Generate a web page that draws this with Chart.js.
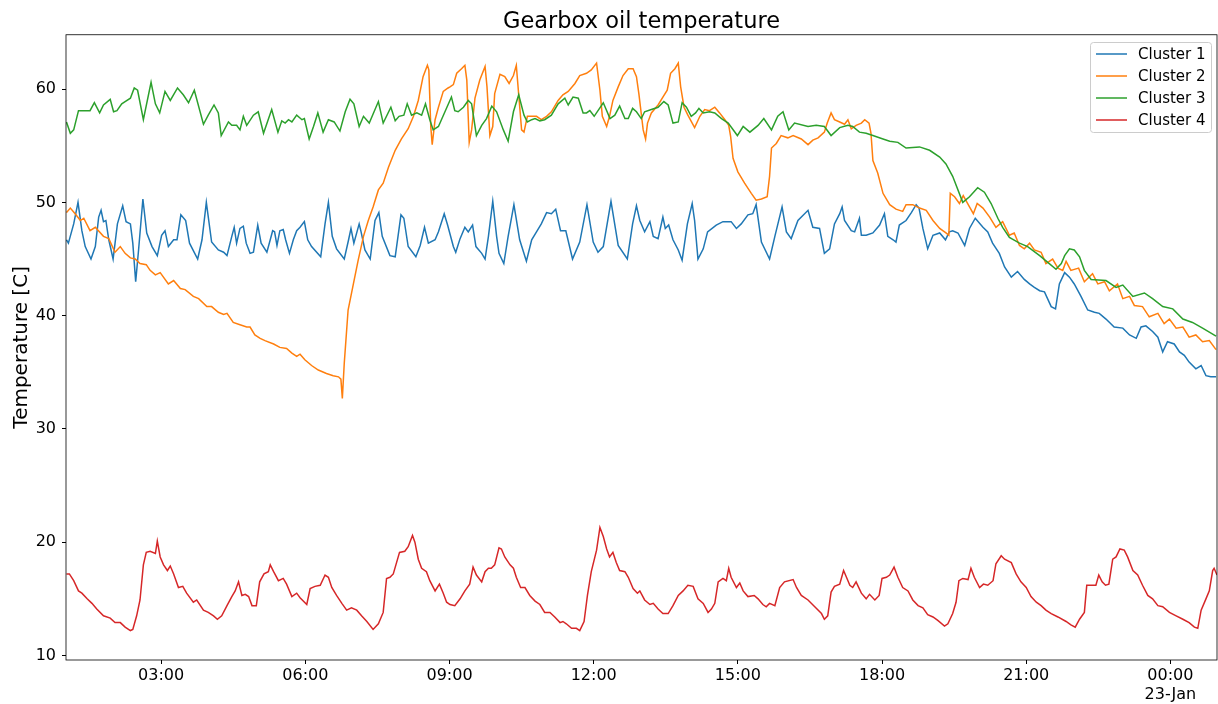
<!DOCTYPE html>
<html>
<head>
<meta charset="utf-8">
<script src="https://cdn.jsdelivr.net/npm/chart.js@4/dist/chart.umd.min.js"></script>
<style>
  html, body { margin: 0; padding: 0; background: #fff; }
  #wrap { width: 1218px; height: 704px; }
</style>
</head>
<body>
<div id="wrap"><canvas id="chart" width="1218" height="704"></canvas></div>
<script>
// hours since 00:00 on 22-Jan, temperature in C
const c1Points = [
  [1.03,46.7],[1.07,46.4],[1.18,48.1],[1.27,50.0],[1.35,47.5],[1.42,46.1],[1.54,45.0],[1.63,46.1],[1.70,48.7],[1.75,49.3],
  [1.80,48.3],[1.85,48.4],[1.91,46.7],[2.00,45.0],[2.09,48.1],[2.20,49.7],[2.27,48.3],[2.36,48.1],[2.41,46.4],[2.47,43.0],
  [2.53,45.8],[2.62,50.3],[2.70,47.3],[2.81,46.1],[2.92,45.3],[3.01,47.1],[3.08,47.5],[3.15,46.1],[3.26,46.7],[3.33,46.7],
  [3.41,48.9],[3.51,48.4],[3.59,46.4],[3.76,45.0],[3.85,46.7],[3.94,50.0],[4.05,46.5],[4.19,45.8],[4.30,45.6],[4.37,45.3],
  [4.47,47.0],[4.52,47.8],[4.57,46.4],[4.64,47.7],[4.71,47.9],[4.77,46.4],[4.85,45.5],[4.92,45.6],[5.01,48.0],[5.08,46.4],
  [5.20,45.6],[5.27,46.7],[5.32,47.5],[5.36,47.4],[5.41,46.2],[5.47,47.5],[5.54,47.6],[5.59,46.7],[5.67,45.5],[5.75,46.7],
  [5.82,47.5],[5.89,47.8],[5.98,48.3],[6.05,46.7],[6.13,46.1],[6.32,45.2],[6.41,48.1],[6.48,50.0],[6.56,47.0],[6.65,45.9],
  [6.81,45.0],[6.90,46.7],[6.95,47.7],[7.01,46.4],[7.12,48.1],[7.16,47.4],[7.24,45.8],[7.35,45.0],[7.45,48.4],[7.53,49.1],
  [7.60,47.0],[7.76,45.3],[7.87,45.2],[7.99,48.9],[8.05,48.6],[8.14,46.1],[8.30,45.2],[8.39,46.2],[8.48,47.8],[8.56,46.4],
  [8.70,46.7],[8.77,47.4],[8.89,49.0],[8.96,48.0],[9.08,46.1],[9.13,45.6],[9.22,46.8],[9.32,47.8],[9.39,47.4],[9.48,48.0],
  [9.55,46.1],[9.67,45.5],[9.74,45.0],[9.81,47.0],[9.90,50.1],[9.98,47.0],[10.03,45.5],[10.13,44.6],[10.22,47.0],[10.34,49.8],
  [10.46,46.7],[10.60,44.8],[10.71,46.7],[10.81,47.4],[10.91,48.1],[11.02,49.1],[11.12,49.0],[11.21,49.4],[11.31,47.5],[11.42,47.5],
  [11.56,45.0],[11.71,46.5],[11.86,49.8],[11.99,46.5],[12.09,45.6],[12.20,46.1],[12.36,50.1],[12.51,46.2],[12.70,45.0],[12.81,48.1],
  [12.89,49.7],[12.96,48.4],[13.06,47.4],[13.17,48.3],[13.24,47.0],[13.34,46.8],[13.44,48.7],[13.49,47.7],[13.56,48.0],[13.65,46.7],
  [13.76,45.8],[13.84,44.9],[13.95,48.1],[14.05,49.9],[14.10,48.4],[14.17,45.0],[14.28,45.9],[14.37,47.4],[14.55,48.0],[14.69,48.3],
  [14.86,48.3],[14.97,47.7],[15.07,48.1],[15.21,48.9],[15.31,49.0],[15.38,49.8],[15.49,46.5],[15.66,45.0],[15.77,47.0],[15.92,49.6],
  [16.01,47.4],[16.11,46.8],[16.25,48.4],[16.46,49.3],[16.56,47.8],[16.70,47.7],[16.80,45.5],[16.91,45.9],[17.01,48.1],[17.12,49.0],
  [17.17,49.6],[17.22,48.4],[17.36,47.5],[17.43,47.4],[17.53,48.6],[17.57,47.1],[17.67,47.1],[17.81,47.3],[17.95,48.0],[18.05,49.0],
  [18.12,47.0],[18.23,46.7],[18.29,46.5],[18.36,48.0],[18.50,48.4],[18.61,49.1],[18.71,49.8],[18.77,49.5],[18.85,47.7],[18.95,45.9],
  [19.06,47.1],[19.20,47.3],[19.32,46.7],[19.40,47.4],[19.47,47.5],[19.58,47.3],[19.72,46.2],[19.82,47.7],[19.94,48.6],[20.10,47.8],
  [20.20,47.4],[20.30,46.4],[20.44,45.5],[20.55,44.3],[20.69,43.4],[20.82,43.9],[20.96,43.2],[21.07,42.8],[21.17,42.5],[21.28,42.2],
  [21.38,42.1],[21.52,40.8],[21.61,40.6],[21.69,42.8],[21.80,43.8],[21.90,43.4],[22.00,42.8],[22.14,41.7],[22.28,40.5],[22.42,40.3],
  [22.52,40.2],[22.66,39.7],[22.83,39.0],[23.01,38.9],[23.15,38.3],[23.29,38.0],[23.39,39.0],[23.49,39.1],[23.63,38.6],[23.74,38.1],
  [23.84,36.8],[23.94,37.7],[24.08,37.5],[24.19,36.8],[24.29,36.5],[24.39,35.9],[24.53,35.3],[24.64,35.6],[24.74,34.7],[24.84,34.6],
  [24.95,34.6]
];

const c2Points = [
  [1.03,49.1],[1.11,49.5],[1.21,49.0],[1.32,48.4],[1.39,48.6],[1.52,47.5],[1.63,47.8],[1.80,47.0],[1.91,46.8],[2.04,45.6],
  [2.15,46.1],[2.25,45.5],[2.36,45.1],[2.46,45.0],[2.56,44.6],[2.69,44.5],[2.77,44.0],[2.88,43.6],[2.98,43.8],[3.15,42.8],
  [3.26,43.1],[3.40,42.4],[3.50,42.3],[3.67,41.7],[3.78,41.5],[3.95,40.8],[4.05,40.8],[4.19,40.3],[4.30,40.1],[4.37,40.2],
  [4.50,39.4],[4.64,39.2],[4.78,39.0],[4.85,39.0],[4.95,38.3],[5.06,38.0],[5.16,37.8],[5.34,37.5],[5.47,37.2],[5.61,37.1],
  [5.72,36.7],[5.82,36.4],[5.89,36.6],[5.99,36.1],[6.13,35.6],[6.27,35.2],[6.44,34.9],[6.58,34.7],[6.69,34.6],[6.74,34.4],
  [6.77,32.7],[6.81,35.8],[6.89,40.5],[7.00,42.8],[7.10,44.9],[7.21,47.0],[7.31,48.4],[7.41,49.6],[7.52,51.1],[7.62,51.7],
  [7.73,53.1],[7.87,54.6],[8.00,55.6],[8.14,56.5],[8.25,57.6],[8.35,59.0],[8.45,61.1],[8.54,62.1],[8.57,61.7],[8.61,56.7],
  [8.64,55.1],[8.70,57.3],[8.77,58.4],[8.87,59.8],[8.97,60.1],[9.01,60.2],[9.08,60.4],[9.15,61.4],[9.25,61.8],[9.32,62.1],
  [9.36,60.8],[9.41,55.3],[9.46,56.4],[9.53,59.2],[9.63,60.8],[9.74,62.0],[9.78,60.2],[9.84,55.9],[9.90,56.7],[9.94,59.6],
  [10.05,61.3],[10.15,61.1],[10.24,60.5],[10.33,61.2],[10.39,62.1],[10.45,59.0],[10.50,56.4],[10.55,56.2],[10.62,57.6],[10.71,57.6],
  [10.81,57.6],[10.91,57.3],[11.02,57.6],[11.12,58.0],[11.26,59.0],[11.36,59.5],[11.47,59.8],[11.61,60.5],[11.71,61.2],[11.85,61.4],
  [11.95,61.7],[12.06,62.3],[12.13,59.9],[12.18,57.6],[12.27,56.7],[12.33,57.6],[12.40,59.0],[12.51,60.2],[12.61,61.2],[12.72,61.8],
  [12.82,61.8],[12.89,61.1],[12.94,59.6],[13.03,56.4],[13.08,55.6],[13.12,57.0],[13.20,57.9],[13.34,58.6],[13.44,59.3],[13.53,59.9],
  [13.60,61.4],[13.69,61.8],[13.76,62.3],[13.81,60.2],[13.88,58.4],[13.96,57.7],[14.10,56.6],[14.21,57.6],[14.31,58.2],[14.41,58.1],
  [14.52,58.4],[14.62,57.9],[14.73,57.3],[14.81,56.8],[14.85,55.8],[14.90,53.9],[15.00,52.7],[15.14,51.7],[15.28,50.8],[15.38,50.2],
  [15.49,50.3],[15.61,50.5],[15.66,52.3],[15.70,54.8],[15.80,55.2],[15.90,55.9],[16.04,55.7],[16.15,55.9],[16.32,55.6],[16.46,55.1],
  [16.56,55.5],[16.67,55.7],[16.80,56.2],[16.86,57.0],[16.94,57.9],[17.01,57.3],[17.12,57.1],[17.22,56.9],[17.29,57.3],[17.36,56.5],
  [17.46,56.8],[17.57,57.0],[17.64,57.3],[17.73,57.0],[17.77,56.1],[17.81,53.7],[17.91,52.6],[18.02,50.8],[18.16,49.8],[18.29,49.4],
  [18.43,49.2],[18.50,49.8],[18.64,49.8],[18.78,49.5],[18.92,49.3],[19.06,48.4],[19.20,47.7],[19.33,47.3],[19.39,47.1],[19.42,50.8],
  [19.51,50.5],[19.61,49.9],[19.69,50.6],[19.82,49.6],[19.90,49.0],[19.98,49.9],[20.10,49.5],[20.24,48.7],[20.37,47.8],[20.51,48.3],
  [20.65,47.1],[20.75,47.3],[20.86,46.2],[20.96,45.9],[21.07,46.4],[21.17,45.8],[21.31,45.6],[21.41,44.6],[21.55,45.0],[21.66,44.2],
  [21.76,44.0],[21.83,44.8],[21.93,44.0],[22.09,44.2],[22.21,43.0],[22.38,43.7],[22.49,42.8],[22.63,43.0],[22.73,42.2],[22.90,42.8],
  [23.01,41.5],[23.15,41.7],[23.25,40.9],[23.42,40.8],[23.56,39.9],[23.74,40.2],[23.87,39.3],[23.98,39.7],[24.12,38.9],[24.26,39.0],
  [24.39,38.1],[24.53,38.3],[24.67,37.7],[24.81,37.8],[24.95,37.0]
];

const c3Points = [
  [1.03,57.1],[1.11,56.1],[1.18,56.4],[1.28,58.1],[1.35,58.1],[1.46,58.1],[1.52,58.1],[1.61,58.8],[1.72,57.9],[1.80,58.6],
  [1.94,59.1],[2.01,58.0],[2.08,58.1],[2.18,58.7],[2.25,58.9],[2.36,59.2],[2.44,60.1],[2.51,59.9],[2.63,57.3],[2.79,60.6],
  [2.88,58.7],[2.97,57.9],[3.08,59.8],[3.19,59.0],[3.34,60.1],[3.46,59.5],[3.57,58.8],[3.69,59.9],[3.88,56.9],[3.98,57.7],
  [4.10,58.6],[4.19,57.9],[4.25,55.9],[4.40,57.1],[4.47,56.8],[4.57,56.8],[4.64,56.4],[4.71,57.6],[4.78,56.8],[4.92,57.7],
  [5.02,58.0],[5.13,56.1],[5.30,58.2],[5.43,56.2],[5.51,57.2],[5.58,57.0],[5.65,57.3],[5.72,57.1],[5.82,57.7],[5.93,57.3],
  [5.98,57.4],[6.08,55.6],[6.17,56.7],[6.26,57.9],[6.37,56.2],[6.48,57.3],[6.60,57.1],[6.72,56.3],[6.83,58.0],[6.93,59.1],
  [7.01,58.7],[7.12,56.7],[7.21,57.6],[7.33,57.0],[7.52,58.9],[7.62,57.0],[7.78,58.4],[7.87,57.2],[7.95,57.6],[8.05,57.7],
  [8.12,58.7],[8.21,57.7],[8.32,57.9],[8.42,57.7],[8.50,58.7],[8.59,57.3],[8.66,56.4],[8.77,56.7],[9.04,59.3],[9.11,58.1],
  [9.18,58.0],[9.29,58.4],[9.39,59.0],[9.46,58.7],[9.56,55.9],[9.67,56.8],[9.77,57.4],[9.88,58.5],[9.98,58.0],[10.12,56.4],
  [10.22,55.4],[10.33,58.0],[10.44,59.5],[10.55,57.7],[10.62,57.1],[10.71,57.3],[10.78,57.4],[10.88,57.2],[10.98,57.3],[11.12,57.7],
  [11.26,58.7],[11.40,59.2],[11.47,58.6],[11.57,59.3],[11.68,59.2],[11.78,57.9],[11.85,57.9],[11.92,58.1],[12.01,57.6],[12.20,58.8],
  [12.34,57.4],[12.44,57.7],[12.54,58.5],[12.65,57.4],[12.72,57.4],[12.81,58.3],[12.89,58.0],[12.99,57.4],[13.06,58.0],[13.20,58.2],
  [13.34,58.4],[13.46,58.9],[13.55,58.6],[13.65,57.0],[13.76,57.1],[13.84,58.8],[13.93,58.4],[14.03,57.6],[14.12,57.9],[14.19,58.3],
  [14.28,57.9],[14.41,58.0],[14.52,57.9],[14.66,57.4],[14.80,57.0],[14.99,55.9],[15.11,56.7],[15.25,56.2],[15.42,56.8],[15.54,57.4],
  [15.70,56.4],[15.83,57.6],[15.94,58.0],[16.06,56.4],[16.18,57.0],[16.46,56.7],[16.63,56.8],[16.80,56.7],[16.94,55.9],[17.12,56.6],
  [17.29,56.8],[17.39,56.7],[17.53,56.2],[17.67,56.1],[17.81,55.9],[18.02,55.6],[18.16,55.4],[18.33,55.3],[18.50,54.8],[18.78,54.9],
  [18.99,54.6],[19.20,54.0],[19.33,53.4],[19.47,52.3],[19.68,50.0],[19.82,50.5],[19.99,51.3],[20.13,50.9],[20.27,49.9],[20.41,48.6],
  [20.51,47.8],[20.65,46.9],[20.86,46.4],[21.03,46.1],[21.28,45.3],[21.48,44.6],[21.62,44.1],[21.73,44.6],[21.80,45.3],[21.90,45.9],
  [22.00,45.8],[22.11,45.2],[22.21,44.0],[22.35,43.2],[22.66,43.1],[22.87,42.5],[23.01,42.7],[23.22,41.7],[23.46,42.0],[23.63,41.5],
  [23.84,40.8],[24.05,40.6],[24.26,39.7],[24.46,39.4],[24.67,38.9],[24.95,38.2]
];

const c4Points = [
  [1.03,17.2],[1.09,17.2],[1.18,16.6],[1.28,15.7],[1.35,15.5],[1.46,15.0],[1.56,14.6],[1.66,14.1],[1.80,13.5],[1.94,13.3],
  [2.04,12.9],[2.15,12.9],[2.25,12.5],[2.36,12.2],[2.41,12.3],[2.49,13.5],[2.56,14.9],[2.63,18.0],[2.69,19.1],[2.77,19.2],
  [2.88,19.0],[2.92,20.1],[2.98,18.7],[3.05,18.0],[3.13,17.5],[3.19,17.9],[3.26,17.2],[3.36,16.0],[3.45,16.1],[3.53,15.5],
  [3.67,14.7],[3.74,14.9],[3.88,14.0],[3.98,13.8],[4.09,13.5],[4.17,13.2],[4.26,13.5],[4.37,14.4],[4.47,15.2],[4.54,15.7],
  [4.61,16.5],[4.68,15.3],[4.75,15.4],[4.82,15.2],[4.89,14.4],[4.98,14.4],[5.05,16.5],[5.14,17.2],[5.23,17.4],[5.27,18.0],
  [5.34,17.4],[5.44,16.6],[5.54,16.8],[5.61,16.3],[5.72,15.2],[5.82,15.5],[5.89,15.1],[6.03,14.5],[6.10,15.9],[6.20,16.1],
  [6.31,16.2],[6.41,17.1],[6.48,16.9],[6.55,16.0],[6.65,15.3],[6.76,14.6],[6.86,14.0],[6.96,14.2],[7.07,14.0],[7.17,13.5],
  [7.28,13.0],[7.41,12.3],[7.52,12.8],[7.62,13.8],[7.69,16.8],[7.76,16.9],[7.83,17.2],[7.96,19.1],[8.07,19.2],[8.14,19.6],
  [8.23,20.6],[8.28,20.0],[8.35,18.5],[8.42,17.7],[8.52,17.4],[8.59,16.6],[8.70,15.7],[8.79,16.3],[8.87,15.5],[8.94,14.7],
  [9.01,14.5],[9.11,14.4],[9.22,15.0],[9.32,15.7],[9.42,16.3],[9.49,17.8],[9.56,17.1],[9.67,16.5],[9.74,17.4],[9.81,17.7],
  [9.87,17.7],[9.94,18.0],[10.03,19.5],[10.08,19.4],[10.15,18.7],[10.26,18.0],[10.33,17.7],[10.39,16.9],[10.48,16.0],[10.57,16.0],
  [10.67,15.3],[10.78,14.8],[10.88,14.5],[10.98,13.8],[11.09,13.8],[11.19,13.4],[11.30,12.9],[11.36,13.0],[11.43,12.8],[11.54,12.4],
  [11.64,12.4],[11.71,12.2],[11.80,13.0],[11.87,15.3],[11.95,17.4],[12.06,19.3],[12.13,21.3],[12.20,20.5],[12.27,19.4],[12.33,18.7],
  [12.40,19.1],[12.47,18.2],[12.54,17.5],[12.65,17.4],[12.72,16.9],[12.82,15.9],[12.91,15.5],[12.96,15.7],[13.06,14.9],[13.17,14.5],
  [13.24,14.6],[13.34,14.1],[13.44,13.7],[13.55,13.7],[13.65,14.4],[13.76,15.3],[13.86,15.7],[13.96,16.2],[14.07,16.1],[14.17,15.0],
  [14.28,14.6],[14.38,13.8],[14.45,14.1],[14.52,14.6],[14.59,16.5],[14.69,16.8],[14.76,16.6],[14.81,17.7],[14.86,16.9],[14.97,16.0],
  [15.04,16.4],[15.11,15.7],[15.21,15.2],[15.34,15.3],[15.42,15.0],[15.52,14.5],[15.59,14.3],[15.66,14.6],[15.77,14.4],[15.87,16.0],
  [15.97,16.5],[16.15,16.7],[16.22,16.0],[16.32,15.3],[16.46,14.9],[16.60,14.3],[16.74,13.7],[16.80,13.2],[16.87,13.5],[16.94,15.6],
  [17.01,16.1],[17.12,16.3],[17.20,17.5],[17.26,16.9],[17.33,16.2],[17.39,16.0],[17.46,16.5],[17.57,15.5],[17.67,15.0],[17.74,15.4],
  [17.85,14.9],[17.94,15.3],[18.00,16.8],[18.09,16.9],[18.16,17.1],[18.25,17.8],[18.33,16.9],[18.43,16.0],[18.54,15.7],[18.64,14.9],
  [18.75,14.4],[18.85,14.2],[18.95,13.6],[19.06,13.4],[19.16,13.1],[19.30,12.6],[19.37,12.8],[19.47,13.7],[19.54,14.7],[19.60,16.6],
  [19.68,16.8],[19.79,16.7],[19.85,17.7],[19.92,16.9],[20.03,16.0],[20.11,16.3],[20.20,16.2],[20.31,16.6],[20.37,18.1],[20.48,18.8],
  [20.55,18.5],[20.69,18.2],[20.79,17.2],[20.89,16.5],[21.00,16.0],[21.10,15.2],[21.21,14.7],[21.31,14.4],[21.41,14.0],[21.52,13.7],
  [21.66,13.4],[21.83,13.0],[21.93,12.7],[22.02,12.5],[22.11,13.2],[22.21,13.8],[22.26,16.2],[22.38,16.2],[22.45,16.2],[22.51,17.1],
  [22.58,16.5],[22.65,16.2],[22.72,16.3],[22.80,18.5],[22.87,18.7],[22.95,19.4],[23.04,19.3],[23.11,18.7],[23.22,17.5],[23.32,17.1],
  [23.42,16.2],[23.53,15.3],[23.63,15.0],[23.74,14.4],[23.84,14.3],[23.98,13.8],[24.12,13.5],[24.26,13.2],[24.39,12.9],[24.50,12.5],
  [24.57,12.4],[24.64,14.0],[24.74,15.0],[24.81,15.7],[24.88,17.5],[24.91,17.7],[24.97,17.1]
];

const seriesNames = ['Cluster 1', 'Cluster 2', 'Cluster 3', 'Cluster 4'];
const seriesColors = ['#1f77b4', '#ff7f0e', '#2ca02c', '#d62728'];
const xTickHours = [3, 6, 9, 12, 15, 18, 21, 24];
const yTickValues = [10, 20, 30, 40, 50, 60];

const FONT = "'DejaVu Sans', sans-serif";

function hourLabel(h) {
  const hh = Math.floor(h) % 24;
  const mm = Math.round((h - Math.floor(h)) * 60);
  const s = String(hh).padStart(2, '0') + ':' + String(mm).padStart(2, '0');
  if (h >= 24 && hh === 0) return [s, '23-Jan'];
  return s;
}

// frame + legend, drawn like matplotlib does
const framePlugin = {
  id: 'frame',
  afterDraw(chart) {
    const ctx = chart.ctx;
    const a = chart.chartArea;
    ctx.save();
    ctx.strokeStyle = '#000';
    ctx.lineWidth = 0.8;
    ctx.strokeRect(a.left, a.top, a.right - a.left, a.bottom - a.top);

    // legend box
    const bx = 1090, by = 42, bw = 121, bh = 90;
    ctx.fillStyle = 'rgba(255,255,255,0.8)';
    ctx.strokeStyle = '#cccccc';
    ctx.lineWidth = 1;
    ctx.beginPath();
    ctx.roundRect(bx + 0.5, by + 0.5, bw, bh, 3);
    ctx.fill();
    ctx.stroke();

    ctx.font = '15px ' + FONT;
    ctx.textBaseline = 'middle';
    ctx.textAlign = 'left';
    seriesNames.forEach(function (name, i) {
      const y = 54 + i * 22;
      ctx.strokeStyle = seriesColors[i];
      ctx.lineWidth = 1.5;
      ctx.beginPath();
      ctx.moveTo(1096, y);
      ctx.lineTo(1127, y);
      ctx.stroke();
      ctx.fillStyle = '#000';
      ctx.fillText(name, 1138, y + 1);
    });
    ctx.restore();
  }
};

const allPoints = [c1Points, c2Points, c3Points, c4Points];

const ctx = document.getElementById('chart').getContext('2d');
new Chart(ctx, {
  type: 'line',
  data: {
    datasets: allPoints.map(function (pts, i) {
      return {
        label: seriesNames[i],
        data: pts.map(function (p) { return { x: p[0], y: p[1] }; }),
        borderColor: seriesColors[i],
        backgroundColor: seriesColors[i],
        borderWidth: 1.5,
        pointRadius: 0,
        tension: 0,
        fill: false,
        order: 4 - i
      };
    })
  },
  options: {
    responsive: false,
    animation: false,
    events: [],
    layout: { padding: { left: 0, right: 1, top: 0, bottom: 0 } },
    plugins: {
      legend: { display: false },
      tooltip: { enabled: false },
      title: {
        display: true,
        text: 'Gearbox oil temperature',
        fullSize: false,
        color: '#000',
        font: { family: FONT, size: 22.5, weight: 'normal', lineHeight: 1.1 },
        padding: { top: 10, bottom: 0 }
      }
    },
    scales: {
      x: {
        type: 'linear',
        min: 1.02,
        max: 24.97,
        afterBuildTicks: function (scale) {
          scale.ticks = xTickHours.map(function (v) { return { value: v }; });
        },
        afterFit: function (scale) { scale.height = 44; },
        grid: { drawOnChartArea: false, drawTicks: true, tickLength: 4, tickColor: '#000', color: '#000' },
        border: { display: false },
        ticks: {
          autoSkip: false,
          maxRotation: 0,
          padding: 2,
          color: '#000',
          font: { family: FONT, size: 16 },
          callback: function (v) { return hourLabel(v); }
        }
      },
      y: {
        type: 'linear',
        min: 9.6,
        max: 64.8,
        afterBuildTicks: function (scale) {
          scale.ticks = yTickValues.map(function (v) { return { value: v }; });
        },
        afterFit: function (scale) { scale.width = 66; },
        grid: { drawOnChartArea: false, drawTicks: true, tickLength: 4, tickColor: '#000', color: '#000' },
        border: { display: false },
        title: {
          display: true,
          text: 'Temperature [C]',
          color: '#000',
          font: { family: FONT, size: 20 },
          padding: { top: 10, bottom: 0 }
        },
        ticks: {
          padding: 6,
          color: '#000',
          font: { family: FONT, size: 16 }
        }
      }
    }
  },
  plugins: [framePlugin]
});
</script>
</body>
</html>
